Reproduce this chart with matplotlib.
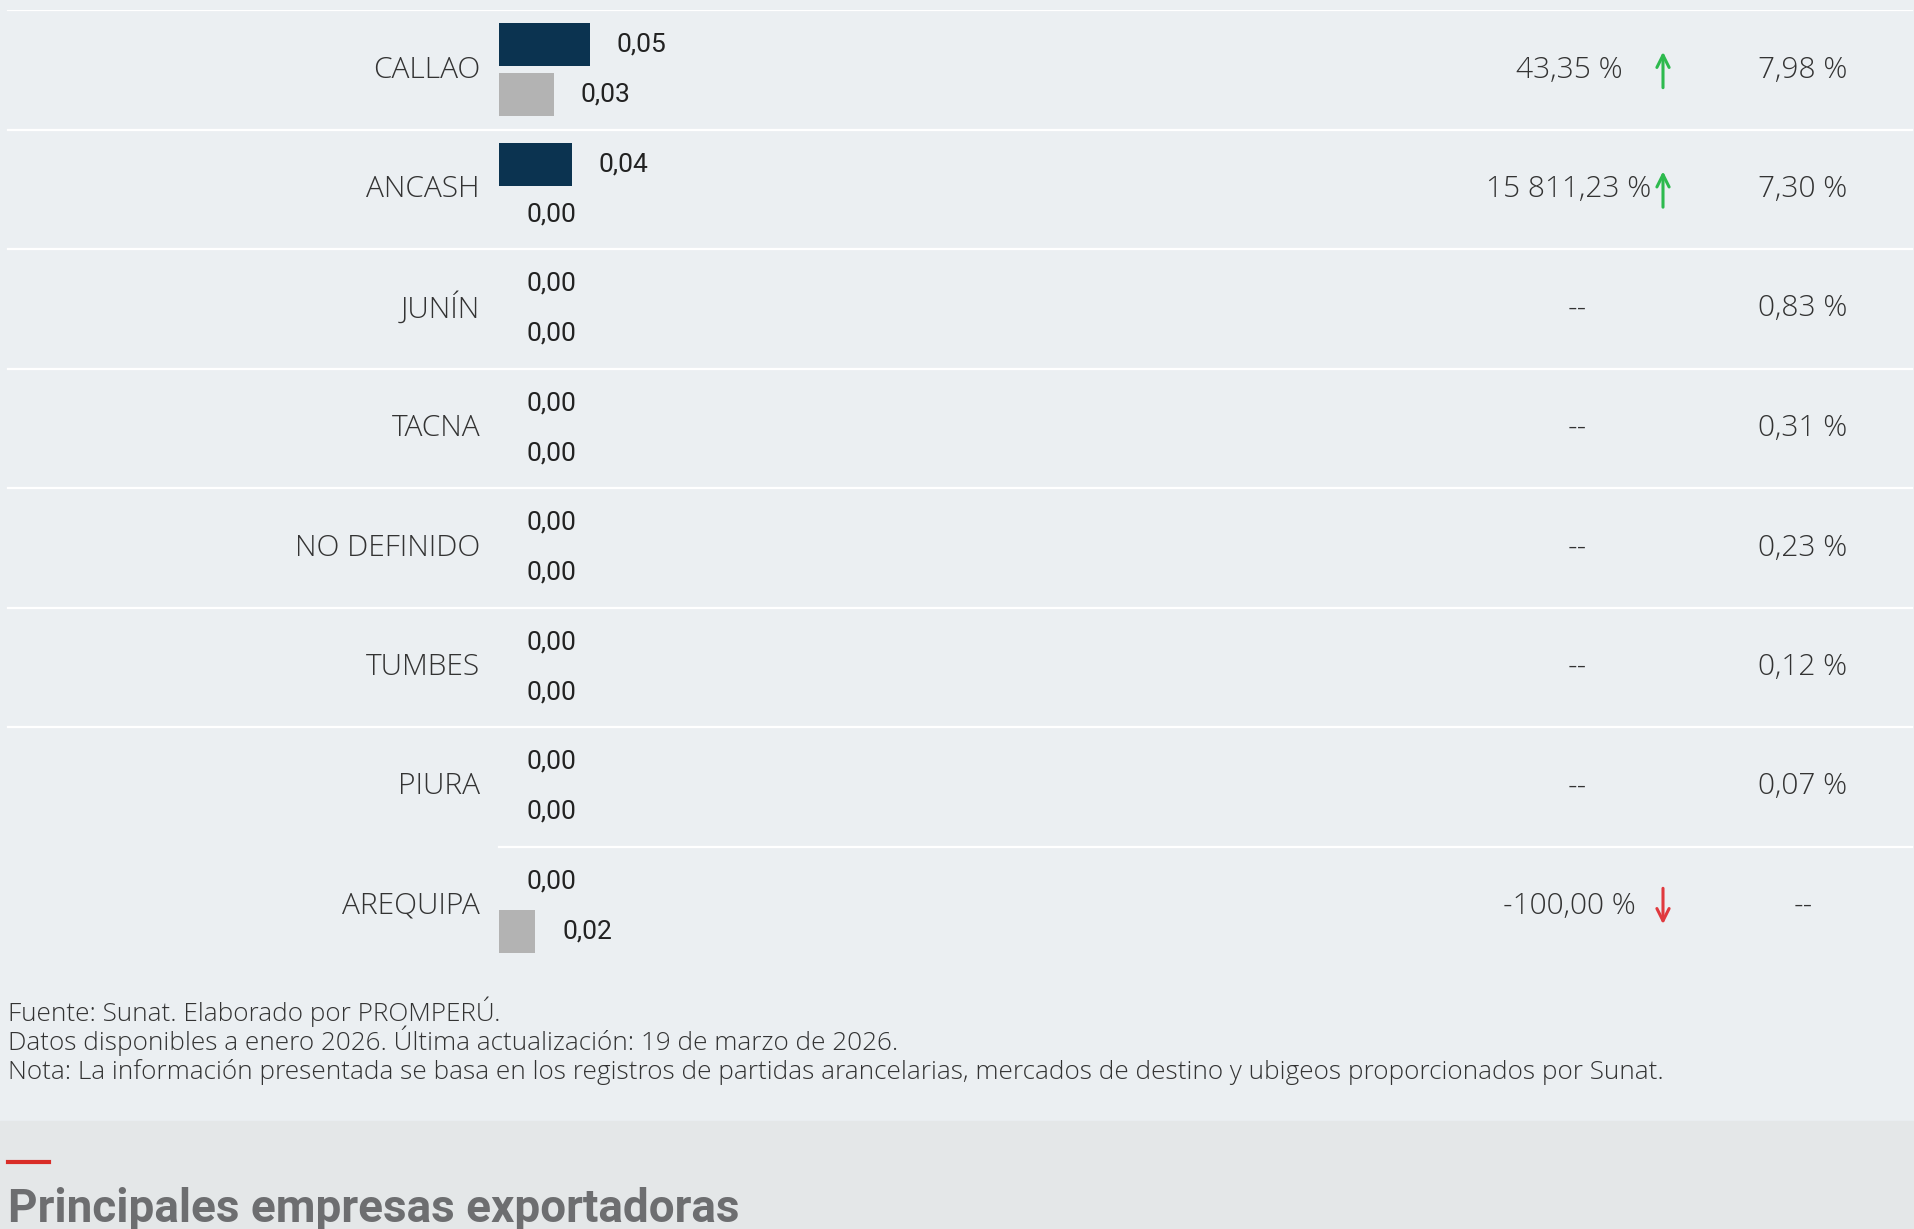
import matplotlib
matplotlib.use('Agg')
import matplotlib.pyplot as plt
from matplotlib.patches import Rectangle
from matplotlib.lines import Line2D
import numpy as np

# datos por región (millones US$)
regiones = ['CALLAO', 'ANCASH', 'JUNÍN', 'TACNA', 'NO DEFINIDO', 'TUMBES', 'PIURA', 'AREQUIPA']
valor_actual = [0.05, 0.04, 0.0, 0.0, 0.0, 0.0, 0.0, 0.0]
valor_anterior = [0.03, 0.0, 0.0, 0.0, 0.0, 0.0, 0.0, 0.02]
variacion = ['43,35 %', '15 811,23 %', '--', '--', '--', '--', '--', '-100,00 %']
tendencia = ['up', 'up', None, None, None, None, None, 'down']
participacion = ['7,98 %', '7,30 %', '0,83 %', '0,31 %', '0,23 %', '0,12 %', '0,07 %', '--']

fuente = [
    'Fuente: Sunat. Elaborado por PROMPERÚ.',
    'Datos disponibles a enero 2026. Última actualización: 19 de marzo de 2026.',
    'Nota: La información presentada se basa en los registros de partidas arancelarias, '
    'mercados de destino y ubigeos proporcionados por Sunat.',
]
titulo_siguiente = 'Principales empresas exportadoras'

W, H = 1914, 1229
fondo = '#EBEFF2'
azul = '#0B3350'
gris = '#B3B3B3'
verde = '#2DBA4E'
rojo = '#E0393E'
texto = '#333333'

plt.rcParams['font.family'] = ['Open Sans', 'DejaVu Sans']

fig = plt.figure(figsize=(W / 100, H / 100), dpi=100)
fig.patch.set_facecolor(fondo)

# eje de barras: ocupa todo el ancho, x=0 en el pixel 499
px_por_unidad = 1820
top, bottom = 10, 966
ax = fig.add_axes([0, 1 - bottom / H, 1, (bottom - top) / H])
xmin = -499 / px_por_unidad
xmax = (W - 499) / px_por_unidad
ax.set_xlim(xmin, xmax)
ax.set_ylim(len(regiones) - 0.5, -0.5)
ax.axis('off')

y = np.arange(len(regiones))
ax.barh(y - 0.21, valor_actual, height=0.36, color=azul)
ax.barh(y + 0.21, valor_anterior, height=0.36, color=gris)

# separadores blancos
for i in range(len(regiones)):
    yy = i - 0.5
    x0 = (8 - 499) / px_por_unidad if i < len(regiones) - 1 else 0
    ax.plot([x0, (W - 2 - 499) / px_por_unidad], [yy, yy], color='white', lw=1.6)

trans = ax.get_yaxis_transform()
for i, nombre in enumerate(regiones):
    ax.annotate(nombre, xy=(0, i), xytext=(-19, 0), textcoords='offset pixels',
                ha='right', va='center', fontsize=21.5, color=texto, fontweight='light')
    for v, off in [(valor_actual[i], -0.21), (valor_anterior[i], 0.21)]:
        ax.annotate(f'{v:.2f}'.replace('.', ','), xy=(v, i + off), xytext=(27, 0),
                    textcoords='offset pixels', ha='left', va='center',
                    fontsize=19, color='#222222', family=['Roboto', 'DejaVu Sans'])

    xv = 1569 / W if variacion[i] != '--' else 1577 / W
    ax.text(xv, i, variacion[i], transform=trans, ha='center', va='center',
            fontsize=21.5, color=texto, fontweight='light')
    ax.text(1803 / W, i, participacion[i], transform=trans, ha='center', va='center',
            fontsize=21.5, color=texto, fontweight='light')

    if tendencia[i] == 'up':
        ax.annotate('', xy=(1663 / W, i - 0.15), xytext=(1663 / W, i + 0.15),
                    xycoords=trans, textcoords=trans,
                    arrowprops=dict(arrowstyle='->', color=verde, lw=2.2,
                                    shrinkA=0, shrinkB=0, mutation_scale=22))
    elif tendencia[i] == 'down':
        ax.annotate('', xy=(1663 / W, i + 0.15), xytext=(1663 / W, i - 0.15),
                    xycoords=trans, textcoords=trans,
                    arrowprops=dict(arrowstyle='->', color=rojo, lw=2.2,
                                    shrinkA=0, shrinkB=0, mutation_scale=22))

# notas al pie
for k, linea in enumerate(fuente):
    fig.text(8 / W, 1 - (1021 + 29 * k) / H, linea, ha='left', va='baseline',
             fontsize=18.8, color='#333333', fontweight='light')

# bloque inferior con el siguiente título
fig.add_artist(Rectangle((0, 0), 1, (H - 1121) / H, transform=fig.transFigure,
                         color='#E4E7E8', zorder=0))
fig.add_artist(Line2D([8 / W, 49 / W], [1 - 1162 / H] * 2, color='#D92D27', lw=3))
fig.text(8 / W, 1 - 1222 / H, titulo_siguiente, ha='left', va='baseline',
         fontsize=33, fontweight='bold', color='#6D6E70',
         family=['Roboto', 'DejaVu Sans'])

fig.savefig('out.png', dpi=100, facecolor=fondo)
